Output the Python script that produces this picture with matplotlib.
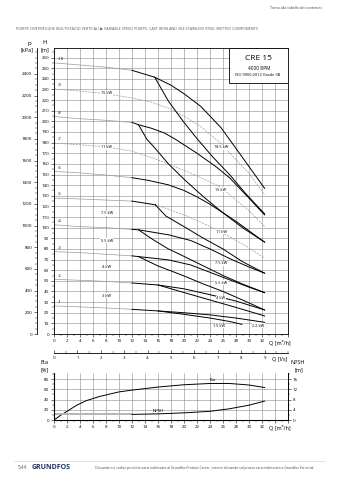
import matplotlib
matplotlib.use("Agg")
import matplotlib.pyplot as plt
from matplotlib.ticker import MultipleLocator
from matplotlib.patches import Rectangle

plt.rcParams['font.family'] = ['Open Sans', 'DejaVu Sans']
plt.rcParams['font.size'] = 3.2

# ---- data (Q in m3/h, H in m) ----
# stage curves: thin grey part below 12 m3/h, then black branches
q_lo = [0, 4, 8, 12]
h_s10_lo = [255, 253, 251, 248]
h_s8_lo = [204.5, 202.5, 201, 199]
h_s6_lo = [153, 151.5, 149.5, 147]
h_s5_lo = [127.8, 127, 126, 125]
h_s4_lo = [102.7, 101, 100, 98.4]
h_s3_lo = [77.5, 76.5, 75, 73.5]
h_s2_lo = [51.5, 50.5, 49.5, 48]
h_s1_lo = [26.4, 25.5, 24.5, 23.2]

q_s10_a = [12, 15.5, 18, 20, 22.6, 25.7, 27, 29, 32.4]
h_s10_a = [248, 241.5, 234, 226, 214, 194, 183, 166, 137]
q_s10_b = [15.5, 17.6, 20, 22.1, 24.5, 27, 29.5, 32.4]
h_s10_b = [241.5, 219, 199, 183, 166, 150, 132, 113]

q_s9 = [0, 4, 8, 12, 15, 17.6, 20, 22.6, 25.7, 28, 30, 32.4]
h_s9 = [230.5, 228.5, 226, 222, 218, 212.5, 205, 195, 179, 164, 151, 131]

q_s8_a = [12, 13, 15, 17, 18.8, 22, 25, 27, 29.5, 32.4]
h_s8_a = [199, 196.8, 193.5, 189, 182.7, 170, 157, 147, 131, 112]
q_s8_b = [13, 14.3, 15.3, 17.6, 20.1, 23, 26, 29, 32.4]
h_s8_b = [196.8, 183, 176.5, 160, 145, 129, 114, 100, 86.4]

q_s7 = [0, 4, 8, 12, 15, 17.6, 20, 22.6, 25.7, 28, 30, 32.4]
h_s7 = [179.5, 178, 176, 172, 166, 160, 154, 147, 138, 126, 116, 101]

q_s6_a = [12, 14.5, 17.6, 20, 22, 24, 26, 28, 30, 32.4]
h_s6_a = [147, 144.5, 140.3, 135, 129, 122, 114, 106, 97, 86.4]

q_s5_a = [12, 15.6]
h_s5_a = [125, 121.5]
q_s5_d = [15.6, 17.6, 20, 23, 25.7, 28, 30, 32.4]
h_s5_d = [121.5, 117.4, 112, 104, 96, 88, 81, 71.3]
q_s5_b = [15.6, 17.2, 20, 23, 26, 29, 32.4]
h_s5_b = [121.5, 111, 101, 90, 80, 68, 57.2]

q_s4_a = [12, 13, 17.6, 21, 24, 27, 30, 32.4]
h_s4_a = [98.4, 98, 93.3, 88, 80, 71, 63, 57.2]
q_s4_b = [13, 15.3, 17.6, 20, 23, 26, 29, 32.4]
h_s4_b = [98, 88.5, 80, 73, 64, 55, 47, 38.9]

q_s3_a = [12, 13, 17.6, 21, 24, 27, 30, 32.4]
h_s3_a = [73.5, 72.8, 69.7, 65, 58, 51, 44, 38.9]
q_s3_b = [13, 16, 19.6, 23, 26, 29, 32.4]
h_s3_b = [72.8, 64, 55.6, 47, 40, 32, 22.6]

q_s2_a = [12, 16, 20, 24, 28, 32.4]
h_s2_a = [48, 46.1, 42.5, 37, 31, 22.6]
q_s2_b = [16, 20, 24, 28, 32.4]
h_s2_b = [46.1, 39, 32, 25, 17]

q_s1_a = [12, 16, 20, 24, 28, 32.4]
h_s1_a = [23.2, 21.7, 20, 18, 15, 11]
q_s1_b = [16, 20, 24, 27, 28.9]
h_s1_b = [21.7, 18.5, 15, 11.8, 9.1]

stage_names = ['-10', '-9', '-8', '-7', '-6', '-5', '-4', '-3', '-2', '-1']
stage_h0 = [255, 230.5, 204.5, 179.5, 153, 127.8, 102.7, 77.5, 51.5, 26.4]

kw_left = ['15 kW', '11 kW', '7.5 kW', '5.5 kW', '4 kW', '3 kW']
kw_left_h = [226.7, 175.6, 113.7, 87.6, 62.8, 36]
kw_right = ['18.5 kW', '15 kW', '11 kW', '7.5 kW', '5.5 kW', '4 kW', '1.5 kW', '2.2 kW']
kw_right_q = [25.7, 25.7, 25.7, 25.7, 25.7, 25.7, 25.4, 31.4]
kw_right_h = [175.8, 135.6, 96.4, 66.5, 48.3, 33.6, 7.5, 7.8]

# efficiency and NPSH
q_eta = [0, 1, 2, 3.5, 5, 7, 10, 12, 16, 20, 24, 27, 30, 32.4]
eta = [0, 9, 17, 29, 38, 46, 55, 58.5, 64.5, 69, 71.5, 71.5, 68.5, 63.5]
q_npsh_grey = [0, 12]
npsh_grey = [2.2, 2.2]
q_npsh = [12, 16, 20, 24, 27, 30, 32.4]
npsh = [2.2, 2.4, 2.8, 3.4, 4.4, 5.8, 7.4]

# ---- layout in pixels ----
W, H = 339, 480
fig = plt.figure(figsize=(W / 100, H / 100), dpi=100)


def box(l, t, r, b):
    return [l / W, 1 - b / H, (r - l) / W, (b - t) / H]


def px(x, y):
    return x / W, 1 - y / H


GRID = '#8a8a8a'
GREY = '#9a9a9a'

ax = fig.add_axes(box(54, 48, 288, 334))
ax.set_xlim(0, 36)
ax.set_ylim(0, 269)
for s in ax.spines.values():
    s.set_linewidth(0.6)
ax.set_xticks(range(0, 37, 2))
ax.set_xticklabels([str(v) if v <= 32 else '' for v in range(0, 37, 2)])
ax.xaxis.set_minor_locator(MultipleLocator(1))
ax.set_yticks(range(0, 261, 10))
ax.yaxis.set_minor_locator(MultipleLocator(5))
ax.tick_params(which='major', length=2.2, width=0.4, pad=1.2)
ax.tick_params(which='minor', length=1.2, width=0.3)
ax.grid(True, which='major', color=GRID, lw=0.4)
ax.set_axisbelow(True)

sec = ax.secondary_yaxis(-17 / 234, functions=(lambda h: h * 9.81, lambda p: p / 9.81))
sec.set_yticks(range(0, 2401, 200))
sec.yaxis.set_minor_locator(MultipleLocator(50))
sec.tick_params(which='major', length=2.2, width=0.4, pad=1.2)
sec.tick_params(which='minor', length=1.2, width=0.3)
sec.spines['left'].set_linewidth(0.6)

# grey start of every stage curve
for h_lo in [h_s10_lo, h_s8_lo, h_s6_lo, h_s5_lo, h_s4_lo, h_s3_lo, h_s2_lo, h_s1_lo]:
    ax.plot(q_lo, h_lo, color=GREY, lw=0.5)

# dashed full curves
for q, h in [(q_s9, h_s9), (q_s7, h_s7), (q_s5_d, h_s5_d)]:
    ax.plot(q, h, color=GREY, lw=0.5, ls=(0, (3, 1.5)))

black = [(q_s10_a, h_s10_a), (q_s10_b, h_s10_b), (q_s8_a, h_s8_a), (q_s8_b, h_s8_b),
         (q_s6_a, h_s6_a), (q_s5_a, h_s5_a), (q_s5_b, h_s5_b), (q_s4_a, h_s4_a),
         (q_s4_b, h_s4_b), (q_s3_a, h_s3_a), (q_s3_b, h_s3_b), (q_s2_a, h_s2_a),
         (q_s2_b, h_s2_b), (q_s1_a, h_s1_a), (q_s1_b, h_s1_b)]
for q, h in black:
    ax.plot(q, h, color='black', lw=0.7)

for name, h0 in zip(stage_names, stage_h0):
    ax.text(0.6, h0 + 3.5, name, fontsize=3, va='center', ha='left')
for lab, h in zip(kw_left, kw_left_h):
    ax.text(8.1, h, lab, fontsize=2.8, ha='center', va='center',
            bbox=dict(facecolor='white', edgecolor='none', pad=0.3))
for lab, q, h in zip(kw_right, kw_right_q, kw_right_h):
    ax.text(q, h, lab, fontsize=2.8, ha='center', va='center',
            bbox=dict(facecolor='white', edgecolor='none', pad=0.3))

# model box
ax.add_patch(Rectangle((0.748, 0.878), 0.252, 0.122, transform=ax.transAxes,
                       facecolor='white', edgecolor='black', lw=0.6, zorder=3))
fig.text(*px(258, 58), 'CRE 15', fontsize=6, ha='center', va='center')
fig.text(*px(259, 68), '4000 RPM', fontsize=3.4, ha='center', va='center')
fig.text(*px(258, 75), 'ISO 9906:2012 Grade 3B', fontsize=2.9, ha='center', va='center')

fig.text(*px(29, 43), 'p', fontsize=4.5, ha='center', va='center')
fig.text(*px(27, 50), '[kPa]', fontsize=4, ha='center', va='center')
fig.text(*px(45, 43), 'H', fontsize=4.5, ha='center', va='center')
fig.text(*px(45, 50), '[m]', fontsize=4, ha='center', va='center')
fig.text(*px(280, 343), 'Q [m³/h]', fontsize=4, ha='center', va='center')

# l/s scale
axl = fig.add_axes(box(54, 352.5, 288, 353))
axl.set_xlim(0, 10)
axl.set_yticks([])
for k in ['left', 'right', 'top']:
    axl.spines[k].set_visible(False)
axl.spines['bottom'].set_linewidth(0.6)
axl.set_xticks(range(0, 10))
axl.xaxis.set_minor_locator(MultipleLocator(0.5))
axl.tick_params(axis='x', which='major', direction='in', length=2.5, width=0.4, pad=2.5)
axl.tick_params(axis='x', which='minor', direction='in', length=1.3, width=0.3)
fig.text(*px(280, 359), 'Q [l/s]', fontsize=4, ha='center', va='center')

# efficiency / NPSH chart
axe = fig.add_axes(box(54, 373, 288, 420))
axe.set_xlim(0, 36)
axe.set_ylim(0, 92)
axe.spines['top'].set_visible(False)
for k in ['left', 'right', 'bottom']:
    axe.spines[k].set_linewidth(0.6)
axe.set_xticks(range(0, 37, 2))
axe.set_xticklabels([str(v) if v <= 32 else '' for v in range(0, 37, 2)])
axe.xaxis.set_minor_locator(MultipleLocator(1))
axe.set_yticks(range(0, 81, 20))
axe.yaxis.set_minor_locator(MultipleLocator(10))
axe.tick_params(which='major', length=2.2, width=0.4, pad=1.2)
axe.tick_params(which='minor', length=1.2, width=0.3)
axe.grid(True, which='major', color=GRID, lw=0.4)
axe.set_axisbelow(True)
axe.plot(q_eta, eta, color='black', lw=0.7)
axe.text(24.5, 79, 'Eta', fontsize=3.2, ha='center', va='center')

axn = axe.twinx()
axn.set_ylim(0, 92 / 5)
axn.spines['top'].set_visible(False)
axn.spines['right'].set_linewidth(0.6)
axn.set_yticks(range(0, 17, 4))
axn.yaxis.set_minor_locator(MultipleLocator(2))
axn.tick_params(which='major', length=2.2, width=0.4, pad=1.2)
axn.tick_params(which='minor', length=1.2, width=0.3)
axn.plot(q_npsh_grey, npsh_grey, color='#b4b4b4', lw=1.4, solid_capstyle='butt')
axn.plot(q_npsh, npsh, color='black', lw=0.7)
axn.text(16, 3.6, 'NPSH', fontsize=3.2, ha='center', va='center')

fig.text(*px(45, 363), 'Eta', fontsize=4, ha='center', va='center')
fig.text(*px(45, 369.5), '[%]', fontsize=4, ha='center', va='center')
fig.text(*px(298, 363), 'NPSH', fontsize=4, ha='center', va='center')
fig.text(*px(299, 369.5), '[m]', fontsize=4, ha='center', va='center')
fig.text(*px(280, 428), 'Q [m³/h]', fontsize=4, ha='center', va='center')

# page header / footer
fig.text(*px(296, 8), 'Torna alla tabella dei contenuti', fontsize=2.6, color='#444444',
         ha='center', va='center')
fig.text(*px(16, 28), 'POMPE CENTRIFUGHE MULTISTADIO VERTICALI \u25b6 VARIABLE SPEED PUMPS- '
         'CAST IRON AND 304 STAINLESS STEEL WETTED COMPONENTS', fontsize=2.7,
         color='#555555', ha='left', va='center')
fig.add_artist(plt.Line2D([14 / W, 325 / W], [1 - 461 / H, 1 - 461 / H],
                          color='#cccccc', lw=0.4))
fig.text(*px(18, 467.5), '5.44', fontsize=3.4, color='#555555', ha='left', va='center')
fig.text(*px(32, 467.5), 'GRUNDFOS', fontsize=5, fontweight='bold', color='#1c2f5e',
         ha='left', va='center')
fig.text(*px(95, 467.5), 'Cliccando sul codice prodotto sarai indirizzato al Grundfos Product '
         'Center, mentre cliccando sul prezzo sarai indirizzato a Grundfos Ext.ernal.',
         fontsize=2.4, color='#444444', ha='left', va='center')

fig.savefig('out.png', dpi=100)
